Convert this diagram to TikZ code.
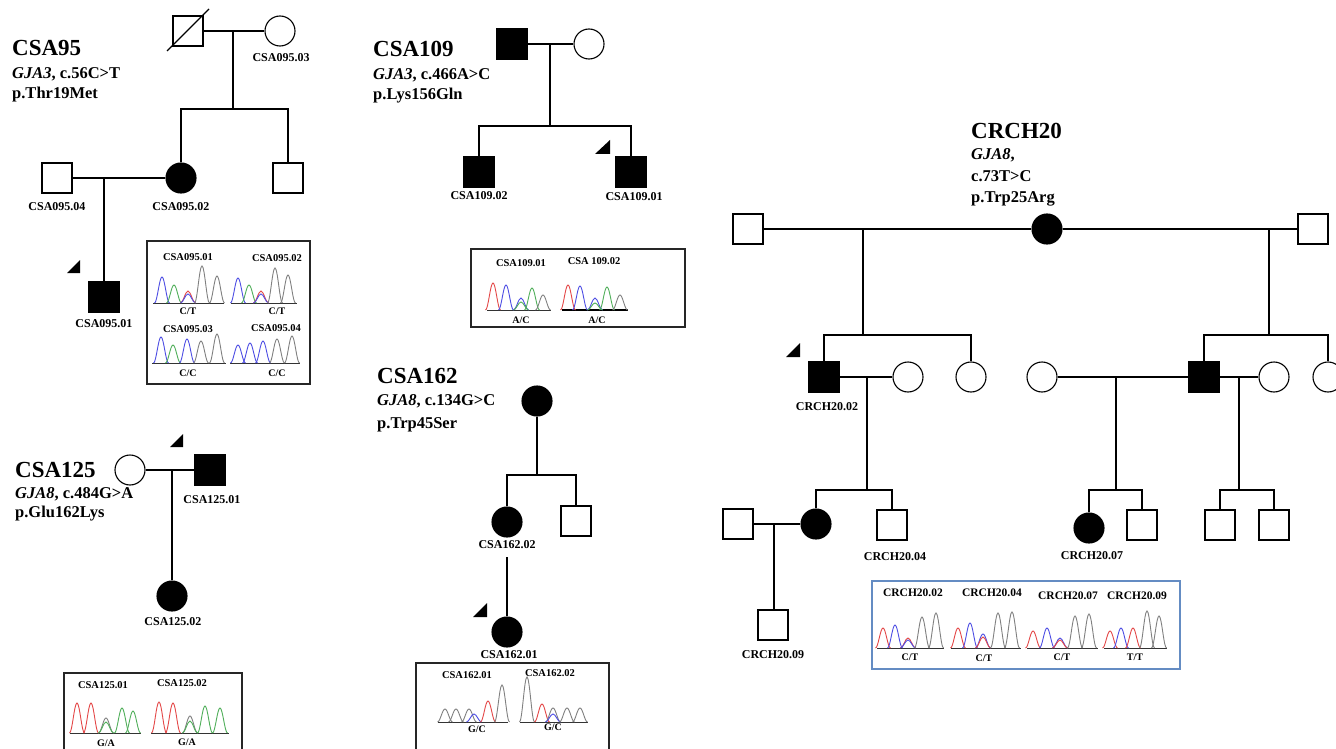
\documentclass[tikz,border=0pt]{standalone}
\usepackage{fontspec}
\setmainfont{Liberation Serif}
\definecolor{tred}{RGB}{228,72,72}
\definecolor{tblue}{RGB}{78,78,228}
\definecolor{tgreen}{RGB}{80,175,90}
\definecolor{tgray}{RGB}{128,128,128}
\definecolor{bxblue}{RGB}{100,140,195}
\newcommand{\chpk}[4]{\draw[#4,line width=0.9pt] ({#1-7.5},#2) cos ({#1-3.75},{#2-#3/2}) sin (#1,{#2-#3}) cos ({#1+3.75},{#2-#3/2}) sin ({#1+7.5},#2);}
\tikzset{
  sq/.style={draw, rectangle, minimum size=30pt, inner sep=0pt, line width=1.1pt, fill=white},
  ci/.style={draw, circle, minimum size=30pt, inner sep=0pt, line width=1.1pt, fill=white},
  af/.style={fill=black},
  lbl/.style={font=\bfseries\fontsize{12}{12}\selectfont, inner sep=0pt},
  bxl/.style={font=\bfseries\fontsize{10.5}{10.5}\selectfont, inner sep=0pt},
  cbxl/.style={font=\bfseries\fontsize{11.5}{11.5}\selectfont, inner sep=0pt},
  gtl/.style={font=\bfseries\fontsize{10}{10}\selectfont, inner sep=0pt},
  ttl/.style={font=\bfseries\fontsize{23}{23}\selectfont, inner sep=0pt, anchor=base west},
  subt/.style={font=\bfseries\fontsize{16.5}{16.5}\selectfont, inner sep=0pt, anchor=base west},
  conn/.style={line width=1.1pt},
  chbox/.style={draw=black!85, line width=1.1pt},
  cbbox/.style={draw=bxblue, line width=1.1pt},
  bl/.style={line width=0.9pt, black!80},
}
\begin{document}
\begin{tikzpicture}[x=1pt,y=-1pt]
\clip (0,0) rectangle (1336,749);
\fill[white] (0,0) rectangle (1336,749);

%================ CSA95
\node[ttl] (t95) at (12,56) {CSA95};
\node[subt] (g95) at (12,79) {\textit{GJA3}, c.56C>T};
\node[subt] (v95) at (12,99) {p.Thr19Met};
\node[sq] (f95) at (188,31) {};
\draw[conn] (167,51) -- (209,9);
\node[ci] (m95) at (280,31) {};
\node[lbl] (lm95) at (281,58) {CSA095.03};
\draw[conn] (f95.east) -- (m95.west);
\coordinate (c95) at (233,31);
\coordinate (s95) at (233,109);
\draw[conn] (c95) -- (s95);
\node[ci,af] (d95) at (181,178) {};
\node[lbl] (ld95) at (181,207) {CSA095.02};
\node[sq] (b95) at (288,178) {};
\draw[conn] (d95.north) |- (s95) -| (b95.north);
\node[sq] (h95) at (57,178) {};
\node[lbl] (lh95) at (57,207) {CSA095.04};
\draw[conn] (h95.east) -- (d95.west);
\node[sq,af] (pr95) at (104,297) {};
\node[lbl] (lpr95) at (104,324) {CSA095.01};
\coordinate (c95b) at (104,178);
\draw[conn] (c95b) -- (pr95.north);
\fill (67,273) -- (80,273) -- (80,260) -- cycle;
% box
\draw[chbox] (147,241) rectangle (310,384);
\node[bxl] (x951) at (188,257) {CSA095.01};
\node[bxl] (x952) at (277,258) {CSA095.02};
\node[bxl] (x953) at (188,329) {CSA095.03};
\node[bxl] (x954) at (276,328) {CSA095.04};
\node[gtl] (y951) at (188,311) {C/T};
\node[gtl] (y952) at (277,311) {C/T};
\node[gtl] (y953) at (188,373) {C/C};
\node[gtl] (y954) at (277,373) {C/C};
\draw[bl] (153,303) -- (224,303);
\chpk{162}{303}{26}{tblue}\chpk{174}{303}{18}{tgreen}\chpk{188}{303}{12}{tred}\chpk{188}{303}{9}{tblue}\chpk{202}{303}{37}{tgray}\chpk{217}{303}{27}{tgray}
\draw[bl] (231,303) -- (297,303);
\chpk{238}{303}{25}{tblue}\chpk{249}{303}{18}{tgreen}\chpk{261}{303}{12}{tred}\chpk{261}{303}{9}{tblue}\chpk{275}{303}{35}{tgray}\chpk{288}{303}{28}{tgray}
\draw[bl] (152,363) -- (226,363);
\chpk{161}{363}{26}{tblue}\chpk{173}{363}{18}{tgreen}\chpk{187}{363}{24}{tblue}\chpk{201}{363}{22}{tgray}\chpk{217}{363}{29}{tgray}
\draw[bl] (230,363) -- (300,363);
\chpk{238}{363}{18}{tblue}\chpk{250}{363}{20}{tblue}\chpk{263}{363}{22}{tblue}\chpk{277}{363}{24}{tgray}\chpk{292}{363}{27}{tgray}

%================ CSA109
\node[ttl] (t109) at (373,57) {CSA109};
\node[subt] (g109) at (373,80) {\textit{GJA3}, c.466A>C};
\node[subt] (v109) at (373,100) {p.Lys156Gln};
\node[sq,af] (f109) at (512,44) {};
\node[ci] (m109) at (589,44) {};
\draw[conn] (f109.east) -- (m109.west);
\coordinate (c109) at (550,44);
\coordinate (s109) at (550,126);
\draw[conn] (c109) -- (s109);
\node[sq,af] (k2) at (479,172) {};
\node[sq,af] (k1) at (631,172) {};
\node[lbl] (lk2) at (479,196) {CSA109.02};
\node[lbl] (lk1) at (634,197) {CSA109.01};
\draw[conn] (k2.north) |- (s109) -| (k1.north);
\fill (595,154) -- (610,154) -- (610,140) -- cycle;
\draw[chbox] (471,249) rectangle (685,327);
\node[bxl] (x1091) at (521,263) {CSA109.01};
\node[bxl] (x1092) at (594,261) {CSA 109.02};
\node[gtl] (y1091) at (521,320) {A/C};
\node[gtl] (y1092) at (597,320) {A/C};
\draw[bl] (487,310) -- (551,310);
\chpk{493}{310}{27}{tred}\chpk{506}{310}{25}{tblue}\chpk{521}{310}{12}{tblue}\chpk{521}{310}{8}{tgreen}\chpk{532}{310}{22}{tgreen}\chpk{543}{310}{15}{tgray}
\draw[line width=1.3pt] (562,310) -- (628,310);
\chpk{568}{310}{25}{tred}\chpk{580}{310}{24}{tblue}\chpk{595}{310}{12}{tblue}\chpk{595}{310}{7}{tgreen}\chpk{607}{310}{23}{tgreen}\chpk{620}{310}{15}{tgray}

%================ CSA125
\node[ttl] (t125) at (15,477) {CSA125};
\node[subt] (g125) at (15,498) {\textit{GJA8}, c.484G>A};
\node[subt] (v125) at (15,517) {p.Glu162Lys};
\node[ci] (m125) at (130,470) {};
\node[sq,af] (f125) at (210,470) {};
\node[lbl] (lf125) at (212,500) {CSA125.01};
\draw[conn] (m125.east) -- (f125.west);
\coordinate (c125) at (172,470);
\node[ci,af] (k125) at (172,596) {};
\node[lbl] (lk125) at (173,622) {CSA125.02};
\draw[conn] (c125) -- (k125.north);
\fill (170,447) -- (183,447) -- (183,434) -- cycle;
\draw[chbox] (64,673) rectangle (242,770);
\node[bxl] (x1251) at (103,685) {CSA125.01};
\node[bxl] (x1252) at (182,683) {CSA125.02};
\node[gtl] (y1251) at (106,743) {G/A};
\node[gtl] (y1252) at (187,742) {G/A};
\draw[bl] (70,733) -- (141,733);
\chpk{77}{733}{30}{tred}\chpk{91}{733}{30}{tred}\chpk{106}{733}{15}{tgray}\chpk{106}{733}{11}{tgreen}\chpk{122}{733}{25}{tgreen}\chpk{133}{733}{22}{tgreen}
\draw[bl] (151,733) -- (229,733);
\chpk{159}{733}{31}{tred}\chpk{173}{733}{30}{tred}\chpk{190}{733}{17}{tgray}\chpk{190}{733}{12}{tgreen}\chpk{205}{733}{27}{tgreen}\chpk{220}{733}{25}{tgreen}

%================ CSA162
\node[ttl] (t162) at (377,383) {CSA162};
\node[subt] (g162) at (377,405) {\textit{GJA8}, c.134G>C};
\node[subt] (v162) at (377,428) {p.Trp45Ser};
\node[ci,af] (gm162) at (537,401) {};
\coordinate (s162) at (537,475);
\draw[conn] (gm162.south) -- (s162);
\node[ci,af] (d162) at (507,522) {};
\node[lbl] (ld162) at (507,545) {CSA162.02};
\node[sq] (b162) at (576,521) {};
\draw[conn] (d162.north) |- (s162) -| (b162.north);
\coordinate (u162) at (507,557);
\node[ci,af] (c162) at (507,632) {};
\node[lbl] (lc162) at (509,655) {CSA162.01};
\draw[conn] (u162) -- (c162.north);
\fill (473,617) -- (487,617) -- (487,603) -- cycle;
\draw[chbox] (416,663) rectangle (609,770);
\node[bxl] (x1621) at (467,675) {CSA162.01};
\node[bxl] (x1622) at (550,673) {CSA162.02};
\node[gtl] (y1621) at (477,729) {G/C};
\node[gtl] (y1622) at (553,727) {G/C};
\draw[bl] (438,722) -- (508,722);
\chpk{445}{722}{13}{tgray}\chpk{456}{722}{13}{tgray}\chpk{469}{722}{13}{tgray}\chpk{474}{722}{8}{tblue}\chpk{488}{722}{21}{tred}\chpk{502}{722}{37}{tgray}
\draw[bl] (520,722) -- (588,722);
\chpk{527}{722}{45}{tgray}\chpk{542}{722}{18}{tred}\chpk{553}{722}{14}{tgray}\chpk{553}{722}{8}{tblue}\chpk{567}{722}{14}{tgray}\chpk{580}{722}{14}{tgray}

%================ CRCH20
\node[ttl] (t20) at (971,139) {CRCH20};
\node[subt] (g20) at (971,160) {\textit{GJA8},};
\node[subt] (n20) at (971,181) {c.73T>C};
\node[subt] (v20) at (971,202) {p.Trp25Arg};
\node[sq] (L20) at (748,229) {};
\node[ci,af] (G20) at (1047,229) {};
\node[sq] (R20) at (1313,229) {};
\draw[conn] (L20.east) -- (G20.west);
\draw[conn] (G20.east) -- (R20.west);
\coordinate (cl20) at (863,229);
\coordinate (sl20) at (863,335);
\coordinate (cr20) at (1269,229);
\coordinate (sr20) at (1269,335);
\draw[conn] (cl20) -- (sl20);
\draw[conn] (cr20) -- (sr20);
% left sibship
\node[sq,af] (P20) at (824,377) {};
\node[lbl] (lP20) at (827,407) {CRCH20.02};
\node[ci] (W20) at (908,377) {};
\node[ci] (S20) at (971,377) {};
\draw[conn] (P20.north) |- (sl20) -| (S20.north);
\draw[conn] (P20.east) -- (W20.west);
\fill (786,357) -- (800,357) -- (800,343) -- cycle;
% right sibship
\node[ci] (V20) at (1042,377) {};
\node[sq,af] (B20) at (1204,377) {};
\node[ci] (X20) at (1274,377) {};
\node[ci] (Z20) at (1328,377) {};
\draw[conn] (B20.north) |- (sr20) -| (Z20.north);
\draw[conn] (V20.east) -- (B20.west);
\draw[conn] (B20.east) -- (X20.west);
% children of CRCH20.02
\coordinate (cp20) at (867,377);
\coordinate (sp20) at (867,490);
\draw[conn] (cp20) -- (sp20);
\node[ci,af] (D20) at (816,524) {};
\node[sq] (K420) at (892,525) {};
\node[lbl] (lK420) at (895,557) {CRCH20.04};
\draw[conn] (D20.north) |- (sp20) -| (K420.north);
\node[sq] (H20) at (738,524) {};
\draw[conn] (H20.east) -- (D20.west);
\coordinate (cd20) at (774,524);
\node[sq] (K920) at (773,625) {};
\node[lbl] (lK920) at (773,655) {CRCH20.09};
\draw[conn] (cd20) -- (cd20 |- K920.north);
% children of V20 x B20
\coordinate (cv20) at (1116,377);
\coordinate (sv20) at (1116,490);
\draw[conn] (cv20) -- (sv20);
\node[ci,af] (K720) at (1089,528) {};
\node[lbl] (lK720) at (1092,556) {CRCH20.07};
\node[sq] (Q20) at (1142,525) {};
\draw[conn] (K720.north) |- (sv20) -| (Q20.north);
% children of B20 x X20
\coordinate (cx20) at (1239,377);
\coordinate (sx20) at (1239,490);
\draw[conn] (cx20) -- (sx20);
\node[sq] (Y120) at (1220,525) {};
\node[sq] (Y220) at (1274,525) {};
\draw[conn] (Y120.north) |- (sx20) -| (Y220.north);
% box
\draw[cbbox] (872,581) rectangle (1180,669);
\node[cbxl] (x2002) at (913,593) {CRCH20.02};
\node[cbxl] (x2004) at (992,593) {CRCH20.04};
\node[cbxl] (x2007) at (1068,596) {CRCH20.07};
\node[cbxl] (x2009) at (1137,596) {CRCH20.09};
\node[gtl] (y2002) at (910,657) {C/T};
\node[gtl] (y2004) at (984,658) {C/T};
\node[gtl] (y2007) at (1062,657) {C/T};
\node[gtl] (y2009) at (1135,657) {T/T};
\draw[bl] (877,648) -- (944,648);
\chpk{883}{648}{20}{tred}\chpk{895}{648}{23}{tblue}\chpk{908}{648}{10}{tred}\chpk{908}{648}{8}{tblue}\chpk{922}{648}{31}{tgray}\chpk{936}{648}{35}{tgray}
\draw[bl] (951,648) -- (1021,648);
\chpk{958}{648}{20}{tred}\chpk{970}{648}{25}{tblue}\chpk{983}{648}{14}{tblue}\chpk{983}{648}{11}{tred}\chpk{998}{648}{35}{tgray}\chpk{1012}{648}{36}{tgray}
\draw[bl] (1027,648) -- (1098,648);
\chpk{1033}{648}{17}{tred}\chpk{1047}{648}{20}{tblue}\chpk{1060}{648}{10}{tblue}\chpk{1060}{648}{8}{tred}\chpk{1075}{648}{32}{tgray}\chpk{1089}{648}{34}{tgray}
\draw[bl] (1104,648) -- (1167,648);
\chpk{1110}{648}{17}{tred}\chpk{1121}{648}{20}{tblue}\chpk{1133}{648}{20}{tred}\chpk{1147}{648}{37}{tgray}\chpk{1159}{648}{32}{tgray}
\end{tikzpicture}
\end{document}
